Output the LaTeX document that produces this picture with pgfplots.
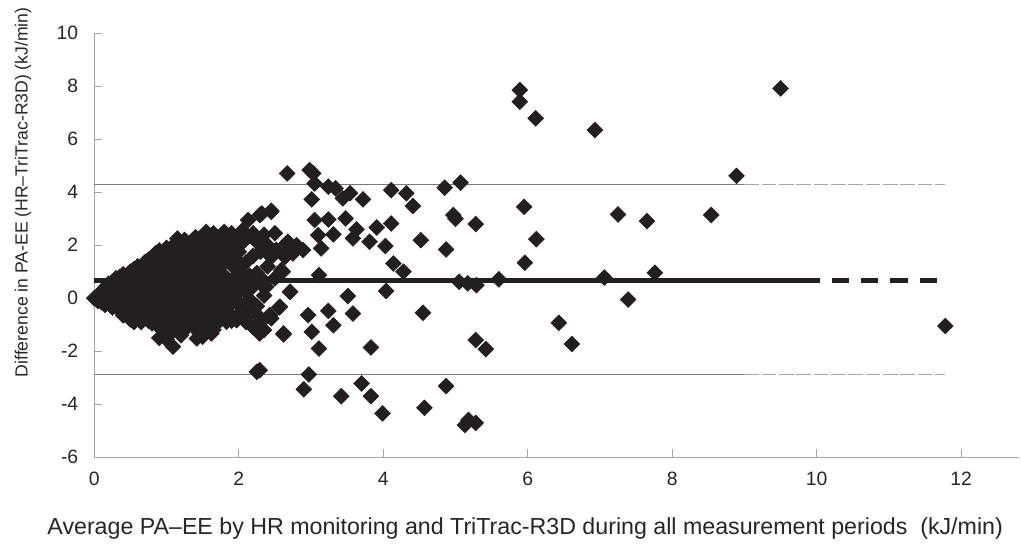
\documentclass[border=0pt]{standalone}
\usepackage{fontspec}
\setmainfont{Liberation Sans}
\usepackage{pgfplots}
\pgfplotsset{compat=1.18}
\definecolor{mk}{HTML}{231F20}
\definecolor{axg}{HTML}{A6A6A6}
\definecolor{lg}{HTML}{7A7A7A}
\begin{document}
\begin{tikzpicture}
\begin{axis}[
  at={(0,0)}, anchor=south west,
  scale only axis, width=693.5pt, height=317.8pt,
  xmin=0, xmax=12.8, ymin=-6, ymax=10,
  xtick={0,2,...,12}, ytick={-6,-4,...,10},
  axis x line*=bottom, axis y line*=left,
  axis line style={axg, line width=0.9pt, -},
  tick style={axg, line width=0.7pt},
  tick align=inside, major tick length=6pt,
  /pgf/number format/assume math mode=true,
  ticklabel style={font=\fontsize{14.5}{16}\selectfont, text=black!85},
  xticklabel style={yshift=-8pt},
  yticklabel style={xshift=-8.5pt},
  clip=false,
  xlabel={Average PA–EE by HR monitoring and TriTrac-R3D during all measurement periods\ \ (kJ/min)},
  ylabel={Difference in PA-EE (HR–TriTrac-R3D) (kJ/min)},
  xlabel style={at={(axis description cs:0.466,-0.1676)}, anchor=center, font=\fontsize{17.4}{19}\selectfont, text=black!85},
  ylabel style={at={(axis description cs:-0.0771,0.625)}, anchor=center, font=\fontsize{13.2}{15}\selectfont, text=black!85},
]
% limits of agreement
\addplot[lg, line width=0.8pt] coordinates {(0,4.31) (9.0,4.31)};
\addplot[axg, line width=0.8pt, dash pattern=on 11pt off 2pt] coordinates {(9.0,4.31) (11.78,4.31)};
\addplot[lg, line width=0.8pt] coordinates {(0,-2.87) (9.0,-2.87)};
\addplot[axg, line width=0.8pt, dash pattern=on 11pt off 2pt] coordinates {(9.0,-2.87) (11.78,-2.87)};
% mean difference
\addplot[mk, line width=3.6pt] coordinates {(0,0.68) (9.8,0.68)};
\addplot[mk, line width=3.6pt, dash pattern=on 13pt off 9pt] coordinates {(9.8,0.68) (11.78,0.68)};
% data points
\addplot[only marks, mark=square*, mark size=4.2pt, mk,
  mark options={fill=mk, draw=mk, rotate=45}] coordinates {
(0,0)
(0.05,0.1) (0.05,-0.1)
(0.1,0.25) (0.1,-0.15)
(0.15,0.4) (0.15,0.0) (0.15,-0.25)
(0.2,0.55) (0.2,0.2) (0.2,-0.2)
(0.25,0.6) (0.25,0.3) (0.25,0.0) (0.25,-0.35)
(0.3,0.75) (0.3,0.45) (0.3,0.1) (0.3,-0.25)
(0.35,0.8) (0.35,0.5) (0.35,0.2) (0.35,-0.15) (0.35,-0.45)
(0.4,0.9) (0.4,0.6) (0.4,0.3) (0.4,0.0) (0.4,-0.35) (0.4,-0.65)
(0.45,0.75) (0.45,0.45) (0.45,0.1) (0.45,-0.2) (0.45,-0.5)
(0.5,1.0) (0.5,0.7) (0.5,0.35) (0.5,0.05) (0.5,-0.3) (0.5,-0.8)
(0.55,1.1) (0.55,0.85) (0.55,0.5) (0.55,0.2) (0.55,-0.1) (0.55,-0.45) (0.55,-0.9)
(0.6,1.2) (0.6,0.9) (0.6,0.6) (0.6,0.3) (0.6,0.0) (0.6,-0.35) (0.6,-0.7)
(0.65,1.05) (0.65,0.75) (0.65,0.45) (0.65,0.15) (0.65,-0.2) (0.65,-0.55) (0.65,-0.9)
(0.7,1.35) (0.7,1.0) (0.7,0.6) (0.7,0.3) (0.7,0.0) (0.7,-0.3) (0.7,-0.75)
(0.75,1.45) (0.75,1.2) (0.75,0.85) (0.75,0.45) (0.75,0.15) (0.75,-0.15) (0.75,-0.5) (0.75,-0.85)
(0.8,1.55) (0.8,1.25) (0.8,0.9) (0.8,0.6) (0.8,0.3) (0.8,0.0) (0.8,-0.4) (0.8,-0.95)
(0.85,1.7) (0.85,1.1) (0.85,0.75) (0.85,0.45) (0.85,0.1) (0.85,-0.25) (0.85,-0.65)
(0.9,1.8) (0.9,1.45) (0.9,1.0) (0.9,0.65) (0.9,0.2) (0.9,-0.1) (0.9,-0.5) (0.9,-1.1) (0.9,-1.5)
(0.95,1.65) (0.95,1.3) (0.95,0.85) (0.95,0.45) (0.95,0.05) (0.95,-0.35) (0.95,-0.8) (0.95,-1.2)
(1.0,1.9) (1.0,1.5) (1.0,1.1) (1.0,0.7) (1.0,0.3) (1.0,-0.1) (1.0,-0.6) (1.0,-1.0) (1.0,-1.55)
(1.05,1.75) (1.05,1.35) (1.05,0.9) (1.05,0.5) (1.05,0.15) (1.05,-0.3) (1.05,-0.85) (1.05,-1.35) (1.09,-1.83)
(1.1,2.0) (1.1,1.6) (1.1,1.2) (1.1,0.8) (1.1,0.35) (1.1,0.0) (1.1,-0.5) (1.1,-1.1)
(1.15,2.25) (1.15,1.85) (1.15,1.4) (1.15,1.0) (1.15,0.6) (1.15,0.2) (1.15,-0.2) (1.15,-0.75)
(1.2,2.05) (1.2,1.65) (1.2,1.25) (1.2,0.8) (1.2,0.4) (1.2,-0.05) (1.2,-0.45) (1.2,-1.0) (1.2,-1.4)
(1.25,2.2) (1.25,1.5) (1.25,1.05) (1.25,0.6) (1.25,0.15) (1.25,-0.25) (1.25,-0.7) (1.25,-1.2)
(1.3,1.95) (1.3,1.75) (1.3,1.3) (1.3,0.85) (1.3,0.45) (1.3,-0.05) (1.3,-0.55) (1.3,-0.95)
(1.35,2.15) (1.35,1.55) (1.35,1.1) (1.35,0.65) (1.35,0.25) (1.35,-0.3) (1.35,-0.8)
(1.4,2.3) (1.4,1.9) (1.4,1.4) (1.4,0.95) (1.4,0.5) (1.4,0.05) (1.4,-0.5) (1.4,-1.1) (1.42,-1.52)
(1.45,2.1) (1.45,1.7) (1.45,1.2) (1.45,0.75) (1.45,0.3) (1.45,-0.15) (1.45,-0.75) (1.45,-1.3)
(1.5,2.35) (1.5,1.95) (1.5,1.5) (1.5,1.0) (1.5,0.55) (1.5,0.1) (1.5,-0.4) (1.5,-0.95) (1.5,-1.45)
(1.55,2.5) (1.55,2.1) (1.55,1.3) (1.55,0.8) (1.55,0.35) (1.55,-0.2) (1.55,-0.7) (1.55,-1.25)
(1.6,2.3) (1.6,1.75) (1.6,1.1) (1.6,0.6) (1.6,0.15) (1.6,-0.45) (1.6,-1.0) (1.62,-1.33)
(1.65,2.45) (1.65,1.95) (1.65,1.45) (1.65,0.9) (1.65,0.4) (1.65,-0.1) (1.65,-0.8) (1.65,-1.2)
(1.7,2.15) (1.7,1.6) (1.7,0.7) (1.7,0.25) (1.7,-0.35) (1.7,-0.95)
(1.75,2.35) (1.75,1.85) (1.75,1.2) (1.75,0.5) (1.75,0.0) (1.75,-0.6)
(1.8,2.5) (1.8,2.0) (1.8,1.45) (1.8,0.85) (1.8,0.3) (1.8,-0.3) (1.83,-0.89)
(1.85,2.25) (1.85,1.7) (1.85,0.6) (1.85,0.05) (1.85,-0.55)
(1.9,2.45) (1.9,1.9) (1.9,1.25) (1.9,0.35) (1.9,-0.2) (1.9,-0.85)
(1.95,2.1) (1.95,1.5) (1.95,0.8) (1.95,0.1) (1.97,-0.83)
(2.0,2.35) (2.0,1.75) (2.0,1.05) (2.0,0.45) (2.0,-0.15) (2.0,-0.6)
(2.05,2.55) (2.06,2.13) (2.05,0.6) (2.05,-0.4)
(2.1,2.3) (2.1,1.35) (2.1,0.25) (2.1,-0.9)
(2.13,2.95) (2.15,0.85) (2.15,-0.05) (2.15,-0.6)
(2.2,2.45) (2.2,1.6) (2.2,0.45) (2.2,-1.1)
(2.25,2.13) (2.25,0.95) (2.25,-0.3) (2.29,-1.33)
(2.32,3.20) (2.3,1.75) (2.3,0.55) (2.3,-0.75) (2.29,-0.95)
(2.35,2.4) (2.36,0.62) (2.35,0.1) (2.35,-1.2)
(2.4,2.0) (2.4,1.2) (2.45,-0.76)
(2.45,3.26) (2.45,3.30) (2.45,1.55) (2.43,-0.64)
(2.5,2.45) (2.5,0.75) (2.57,-0.32)
(2.25,-2.78) (2.29,-2.72)
(2.29,3.14) (2.29,2.13) (2.38,0.43) (2.52,1.82) (2.66,2.07) (2.75,1.69) (2.59,1.06)
(2.62,-1.33) (2.71,0.24)
(2.67,4.71) (2.98,4.84) (3.03,4.71) (3.05,4.33) (3.24,4.21) (3.34,4.15)
(3.44,3.77) (3.54,3.96) (3.72,3.73) (3.01,3.73) (4.11,4.08) (4.32,3.96)
(4.41,3.48) (4.85,4.17) (5.07,4.36) (4.97,3.14) (5.0,3.0) (5.28,2.80)
(3.05,2.95) (3.24,2.97) (3.48,3.01) (3.10,2.38) (3.31,2.41) (3.63,2.60)
(3.58,2.26) (3.81,2.13) (3.91,2.67) (4.11,2.82) (4.03,1.97) (4.52,2.19)
(4.87,1.84) (3.14,1.88) (2.52,1.82) (2.68,2.13) (2.80,2.0) (2.89,1.82)
(2.64,1.56) (2.61,1.0) (4.14,1.31) (4.28,1.0) (3.11,0.87)
(5.05,0.62) (5.17,0.56) (5.29,0.49) (5.60,0.71)
(2.71,0.24) (4.04,0.27) (3.51,0.08) (2.56,-0.35) (2.96,-0.64) (3.24,-0.48)
(3.58,-0.58) (4.55,-0.55) (2.43,-0.64) (2.29,-0.95) (3.31,-1.02) (3.01,-1.27)
(2.62,-1.37) (3.11,-1.90) (3.83,-1.86) (5.28,-1.58) (5.42,-1.92)
(2.97,-2.88) (2.90,-3.44) (3.42,-3.70) (3.70,-3.22) (3.83,-3.70) (3.99,-4.35)
(4.57,-4.14) (4.87,-3.32) (5.13,-4.79) (5.28,-4.71) (5.18,-4.60)
(5.89,7.86) (5.89,7.42) (6.11,6.79) (6.93,6.35) (8.89,4.62) (9.50,7.92)
(5.95,3.45) (7.25,3.16) (7.65,2.91) (8.54,3.14) (6.12,2.23) (5.96,1.34)
(7.06,0.78) (7.76,0.96) (7.39,-0.05) (6.43,-0.93) (6.61,-1.73) (11.78,-1.05)
};
\end{axis}
\pgfresetboundingbox
\path (-70.7pt,-65.25pt) rectangle (695pt,342.8pt);
\end{tikzpicture}
\end{document}
